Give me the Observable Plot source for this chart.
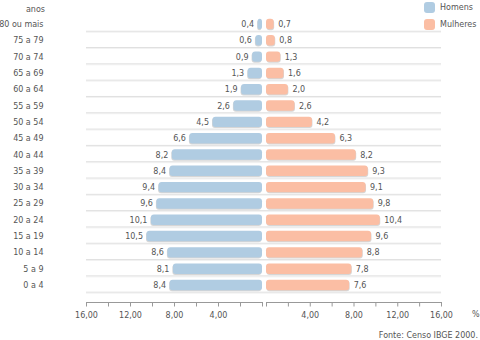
<!DOCTYPE html>
<html>
<head>
<meta charset="utf-8">
<script src="https://cdn.jsdelivr.net/npm/d3@7"></script>
<script src="https://cdn.jsdelivr.net/npm/@observablehq/plot@0.6"></script>
<style>
  body { margin: 0; background: #fff; }
  #chart { position: relative; width: 480px; height: 340px; font-family: "DejaVu Sans", sans-serif; font-size: 8px; color: #555; }
  #left, #right { position: absolute; top: 0; }
  #left { left: 0; }
  #right { left: 264px; }
  svg { display: block; }
  .lbl { position: absolute; white-space: nowrap; line-height: 10px; }
  .sw { position: absolute; width: 11px; height: 11px; border-radius: 3px; }
</style>
</head>
<body>
<div id="chart">
  <div id="left"></div>
  <div id="right"></div>
  <div class="lbl" style="right:435px; top:5px;">anos</div>
  <div class="sw" style="left:424px; top:2px; background:#b0cce2;"></div>
  <div class="lbl" style="left:440px; top:3px;">Homens</div>
  <div class="sw" style="left:424px; top:19px; background:#fbbea4;"></div>
  <div class="lbl" style="left:440px; top:20px;">Mulheres</div>
  <div class="lbl" style="left:472px; top:310px;">%</div>
  <div class="lbl" style="right:2px; top:331px;">Fonte: Censo IBGE 2000.</div>
</div>
<script>
const ages = ["80 ou mais","75 a 79","70 a 74","65 a 69","60 a 64","55 a 59","50 a 54","45 a 49","40 a 44","35 a 39","30 a 34","25 a 29","20 a 24","15 a 19","10 a 14","5 a 9","0 a 4"];
const homens = [0.4,0.6,0.9,1.3,1.9,2.6,4.5,6.6,8.2,8.4,9.4,9.6,10.1,10.5,8.6,8.1,8.4];
const mulheres = [0.7,0.8,1.3,1.6,2.0,2.6,4.2,6.3,8.2,9.3,9.1,9.8,10.4,9.6,8.8,7.8,7.6];
const xTicks = [0,2,4,6,8,10,12,14,16];
const xTickLabels = [4,8,12,16];

const blue = "#b0cce2";
const salmon = "#fbbea4";

const fmt1 = v => d3.format(".1f")(v).replace(".", ",");
const fmt2 = v => xTickLabels.includes(v) ? d3.format(".2f")(v).replace(".", ",") : "";

const dataH = ages.map((a, i) => ({age: a, v: homens[i]}));
const dataM = ages.map((a, i) => ({age: a, v: mulheres[i]}));

const H = 320;
const common = {
  height: H,
  marginTop: 18.8,
  marginBottom: H - 302,
  style: {fontFamily: "DejaVu Sans, sans-serif", fontSize: "8px", color: "#555", background: "transparent", overflow: "visible"}
};
const yScale = {domain: ages, paddingInner: 0.36, paddingOuter: 0.362, align: 0, round: false};

function panel(data, color, left) {
  return Plot.plot({
    ...common,
    width: left ? 264 : 216,
    marginLeft: left ? 86 : 2,
    marginRight: left ? 2 : 39,
    x: {domain: [0, 16], reverse: left},
    y: left ? yScale : {...yScale, axis: null},
    marks: [
      Plot.ruleY(ages, {y: d => d, dy: 7.7, stroke: "#f2f2f2", insetRight: left ? -2 : 0, insetLeft: left ? 0 : -2}),
      Plot.ruleY(ages, {y: d => d, dy: 6.7, stroke: "#e0e0e0", insetRight: left ? -2 : 0, insetLeft: left ? 0 : -2}),
      Plot.barX(data, {x: "v", y: "age", fill: "#d6d6d6", rx: 3, dy: 1, dx: left ? -0.5 : 0.5}),
      Plot.barX(data, {x: "v", y: "age", fill: color, rx: 3}),
      Plot.text(data, {x: "v", y: "age", text: d => fmt1(d.v), textAnchor: left ? "end" : "start", dx: left ? -4 : 4, fill: "#555"}),
      ...(left ? [Plot.axisY({tickSize: 0, tickPadding: 43, label: null})] : []),
      Plot.axisX({ticks: xTicks, tickSize: 4.5, tickPadding: 5, tickFormat: fmt2, label: null, stroke: "#999"}),
      Plot.frame({anchor: "bottom", stroke: "#999"})
    ]
  });
}

document.getElementById("left").append(panel(dataH, blue, true));
document.getElementById("right").append(panel(dataM, salmon, false));
</script>
</body>
</html>
